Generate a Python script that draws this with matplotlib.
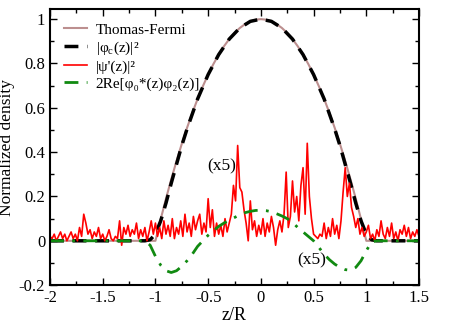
import numpy as np
import matplotlib
matplotlib.use("Agg")
import matplotlib.pyplot as plt
from matplotlib.ticker import MultipleLocator

plt.rcParams['font.family'] = ['Liberation Serif', 'DejaVu Serif']
plt.rcParams['mathtext.fontset'] = 'stix'
plt.rcParams['mathtext.default'] = 'regular'

# Thomas-Fermi profile
tf_z = [-2.0, -1.0, -0.95, -0.9, -0.85, -0.8, -0.75, -0.7, -0.65, -0.6, -0.55,
        -0.5, -0.45, -0.4, -0.35, -0.3, -0.25, -0.2, -0.15, -0.1, -0.05, 0.0,
        0.05, 0.1, 0.15, 0.2, 0.25, 0.3, 0.35, 0.4, 0.45, 0.5, 0.55, 0.6,
        0.65, 0.7, 0.75, 0.8, 0.85, 0.9, 0.95, 1.0, 1.5]
tf_n = [0.0, 0.0, 0.0975, 0.19, 0.2775, 0.36, 0.4375, 0.51, 0.5775, 0.64, 0.6975,
        0.75, 0.7975, 0.84, 0.8775, 0.91, 0.9375, 0.96, 0.9775, 0.99, 0.9975, 1.0,
        0.9975, 0.99, 0.9775, 0.96, 0.9375, 0.91, 0.8775, 0.84, 0.7975, 0.75, 0.6975, 0.64,
        0.5775, 0.51, 0.4375, 0.36, 0.2775, 0.19, 0.0975, 0.0, 0.0]

# condensate |phi_c|^2
pc_z = [-2.0, -1.1, -1.05, -1.0, -0.95, -0.9, -0.85, -0.8, -0.75, -0.7, -0.6,
        -0.5, -0.4, -0.3, -0.2, -0.1, 0.0, 0.1, 0.2, 0.3, 0.4, 0.5, 0.6,
        0.7, 0.75, 0.8, 0.85, 0.9, 0.95, 1.0, 1.05, 1.1, 1.5]
pc_n = [0.0, 0.0, 0.005, 0.03, 0.09, 0.17, 0.26, 0.345, 0.43, 0.505, 0.64,
        0.75, 0.84, 0.91, 0.96, 0.99, 1.0, 0.99, 0.96, 0.91, 0.84, 0.75, 0.64,
        0.505, 0.43, 0.345, 0.26, 0.17, 0.09, 0.03, 0.005, 0.0, 0.0]

# |psi'(z)|^2 (x5), z = -2.00 ... 1.50 step 0.02
psi_n = [0.02, 0.01, 0.03, 0.00, 0.02, 0.04, 0.01, 0.03, 0.00, 0.02,
         0.04, 0.01, 0.03, 0.00, 0.06, 0.02, 0.12, 0.08, 0.03, 0.05,
         0.01, 0.04, 0.02, 0.06, 0.01, 0.03, 0.00, 0.02, 0.05, 0.01,
         0.00, 0.02, 0.01, 0.09, -0.02, 0.06, 0.03, 0.07, 0.02, 0.05,
         0.03, 0.08, 0.01, 0.05, 0.02, 0.06, 0.00, 0.04, 0.09, 0.03,
         0.08, 0.02, 0.06, 0.01, 0.09, 0.03, 0.07, 0.02, 0.10, 0.01,
         0.06, 0.03, 0.09, 0.02, 0.12, 0.04, 0.08, 0.02, 0.11, 0.05,
         0.09, 0.12, 0.03, 0.08, 0.04, 0.19, 0.06, 0.14, 0.02, 0.08,
         0.03, 0.07, 0.02, 0.10, 0.04, 0.08, 0.12, 0.25, 0.18, 0.43,
         0.24, 0.22, 0.14, 0.08, 0.00, 0.18, 0.05, 0.09, 0.02, 0.07,
         0.03, 0.10, 0.02, 0.08, 0.04, 0.11, 0.06, -0.02, 0.05, 0.09,
         0.04, 0.12, 0.31, 0.06, 0.11, 0.27, 0.13, 0.20, 0.09, 0.25,
         0.33, 0.12, 0.44, 0.20, 0.10, 0.03, 0.02, 0.01, 0.03, 0.02,
         0.08, 0.01, 0.06, 0.02, 0.10, 0.03, 0.07, 0.01, 0.09, 0.22,
         0.33, 0.20, 0.26, 0.15, 0.11, 0.06, 0.10, 0.03, 0.06, 0.02,
         0.04, 0.07, 0.01, 0.03, 0.00, 0.05, 0.02, 0.09, 0.03, 0.01,
         0.06, 0.02, 0.08, 0.01, 0.04, 0.00, 0.05, 0.03, 0.07, 0.02,
         0.06, 0.01, 0.04, 0.02, 0.05, 0.02]
psi_z = np.linspace(-2.0, 1.5, len(psi_n))

# 2Re[phi0* phi2] (x5)
re_z = [-2.0, -1.1, -1.05, -1.0, -0.95, -0.9, -0.85, -0.8, -0.75, -0.7, -0.65,
        -0.6, -0.55, -0.5, -0.45, -0.4, -0.35, -0.3, -0.25, -0.2, -0.15, -0.1,
        -0.05, 0.0, 0.05, 0.1, 0.15, 0.2, 0.25, 0.3, 0.35, 0.4, 0.45, 0.5,
        0.55, 0.6, 0.65, 0.7, 0.75, 0.8, 0.85, 0.9, 0.95, 1.0, 1.05, 1.1, 1.5]
re_n = [0.0, 0.0, -0.02, -0.07, -0.11, -0.135, -0.143, -0.135, -0.115, -0.09, -0.06,
        -0.025, 0.0, 0.025, 0.045, 0.065, 0.08, 0.093, 0.105, 0.118, 0.127, 0.133,
        0.137, 0.138, 0.136, 0.131, 0.122, 0.112, 0.10, 0.083, 0.06, 0.04, 0.02, 0.0,
        -0.03, -0.06, -0.085, -0.105, -0.12, -0.13, -0.133, -0.12, -0.09, -0.045, -0.005, 0.0, 0.0]

fig = plt.figure(figsize=(4.63, 3.27), dpi=100)
ax = fig.add_axes([0.108, 0.128, 0.797, 0.844])

ax.plot(tf_z, tf_n, color='#bc8f8f', lw=1.5, label='Thomas-Fermi')
ax.plot(pc_z, pc_n, color='black', lw=2.5, dashes=(4, 2.5), label='|φ$_c$(z)|²')
ax.plot(psi_z, psi_n, color='red', lw=1.2, label="|ψ'(z)|²")
ax.plot(re_z, re_n, color='#118a11', lw=2, dashes=(5, 3, 1, 3),
        label='2Re[φ₀*(z)φ₂(z)]')

ax.text(-0.37, 0.335, '(x5)', fontsize=12.5, ha='center', va='center')
ax.text(0.48, -0.09, '(x5)', fontsize=12.5, ha='center', va='center')

ax.set_xlim(-2, 1.5)
ax.set_ylim(-0.2, 1.045)
ax.xaxis.set_minor_locator(MultipleLocator(0.25))
ax.yaxis.set_minor_locator(MultipleLocator(0.1))
ax.set_xticks([-2, -1.5, -1, -0.5, 0, 0.5, 1, 1.5])
ax.set_xticklabels(['-2', '-1.5', '-1', '-0.5', '0', '0.5', '1', '1.5'])
ax.set_yticks([-0.2, 0, 0.2, 0.4, 0.6, 0.8, 1])
ax.set_yticklabels(['-0.2', '0', '0.2', '0.4', '0.6', '0.8', '1'])
ax.tick_params(which='both', direction='in', top=True, right=True, labelsize=12)
ax.tick_params(which='major', length=5, width=1)
ax.tick_params(which='minor', length=3, width=1)
for s in ax.spines.values():
    s.set_linewidth(1.5)

ax.set_xlabel('z/R', fontsize=13, labelpad=1)
ax.set_ylabel('Normalized density', fontsize=12.5, labelpad=3)

ax.legend(loc='upper left', frameon=False, fontsize=11, handlelength=1.5,
          labelspacing=0.2, borderaxespad=0.5, handletextpad=0.6)

fig.savefig('out.png', dpi=100)
